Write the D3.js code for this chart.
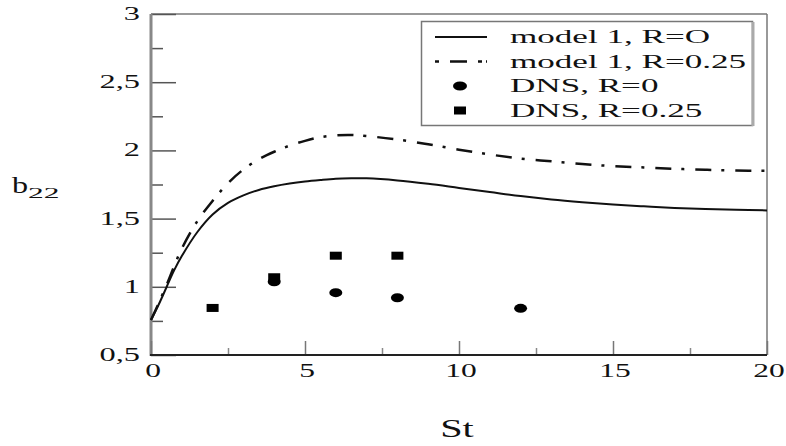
<!DOCTYPE html>
<html><head><meta charset="utf-8">
<script src="https://cdn.jsdelivr.net/npm/d3@7"></script>
<style>body{margin:0;background:#fff}svg{display:block}</style>
</head><body>
<svg id="c" width="786" height="446"></svg>
<script>
// ---- data ----
const St = [0,0.25,0.5,0.75,1,1.5,2,2.5,3,3.5,4,4.5,5,5.5,6,6.5,7,8,9,10,11,12,13,14,15,16,17,18,19,20];
const model1_R0 = [0.757,0.87,0.995,1.12,1.225,1.40,1.53,1.615,1.67,1.71,1.737,1.757,1.772,1.783,1.792,1.795,1.795,1.78,1.755,1.725,1.695,1.665,1.64,1.62,1.603,1.59,1.578,1.57,1.564,1.56];
const model1_R025 = [0.757,0.88,1.01,1.15,1.28,1.48,1.63,1.76,1.86,1.935,1.99,2.035,2.07,2.097,2.11,2.113,2.105,2.08,2.045,2.005,1.97,1.94,1.92,1.90,1.885,1.875,1.865,1.858,1.853,1.85];
const dnsR0_St = [4,6,8,12];
const dnsR0_b = [1.037,0.957,0.92,0.842];
const dnsR025_St = [2,4,6,8];
const dnsR025_b = [0.845,1.07,1.228,1.228];
const xTicks = [0,5,10,15,20];
const xTickLabels = ["0","5","10","15","20"];
const xMinor = [2.5,7.5,12.5,17.5];
const yTicks = [0.5,1,1.5,2,2.5,3];
const yTickLabels = ["0,5","1","1,5","2","2,5","3"];
const yMinor = [0.75,1.25,1.75,2.25,2.75];
const legendLabels = ["model 1, R=O","model 1, R=0.25","DNS, R=0","DNS, R=0.25"];

// ---- drawing ----
const svg = d3.select("#c");
const x = d3.scaleLinear().domain([0,20]).range([151,767]);
const y = d3.scaleLinear().domain([0.5,3]).range([355,14]);
const FONT = "'Liberation Serif','Times New Roman',serif";

function stext(g, px, py, str, size, sx, anchor) {
  return g.append("text")
    .attr("transform", `translate(${px},${py}) scale(${sx},1)`)
    .attr("text-anchor", anchor || "start")
    .attr("font-family", FONT).attr("font-size", size)
    .attr("fill", "#111").text(str);
}

// frame top & right
svg.append("line").attr("x1",x(0)).attr("x2",x(20)).attr("y1",y(3)).attr("y2",y(3)).attr("stroke","#777").attr("stroke-width",1.5);
svg.append("line").attr("x1",x(20)).attr("x2",x(20)).attr("y1",y(3)).attr("y2",y(0.5)).attr("stroke","#777").attr("stroke-width",1.5);

// y axis ticks (inward)
const gy = svg.append("g").attr("transform",`translate(${x(0)},0)`);
gy.call(d3.axisLeft(y).tickValues(yTicks).tickSize(-25).tickFormat(""));
gy.select(".domain").remove();
gy.selectAll(".tick line").attr("stroke","#555").attr("stroke-width",1.5);
gy.append("g").call(d3.axisLeft(y).tickValues(yMinor).tickSize(-12).tickFormat(""))
  .call(g=>{g.select(".domain").remove(); g.selectAll(".tick line").attr("stroke","#555").attr("stroke-width",1.5);});
svg.append("line").attr("x1",x(0)).attr("x2",x(0)).attr("y1",y(3)).attr("y2",y(0.5)+1).attr("stroke","#888").attr("stroke-width",3);

// x axis ticks (inward)
const gx = svg.append("g").attr("transform",`translate(0,${y(0.5)})`);
gx.call(d3.axisBottom(x).tickValues(xTicks).tickSize(-14).tickFormat(""));
gx.select(".domain").remove();
gx.selectAll(".tick line").attr("stroke","#777").attr("stroke-width",1.5);
gx.append("g").call(d3.axisBottom(x).tickValues(xMinor).tickSize(-7).tickFormat(""))
  .call(g=>{g.select(".domain").remove(); g.selectAll(".tick line").attr("stroke","#888").attr("stroke-width",1.5);});
svg.append("line").attr("x1",x(0)-1).attr("x2",x(20)).attr("y1",y(0.5)).attr("y2",y(0.5)).attr("stroke","#222").attr("stroke-width",2);

// tick labels
yTicks.forEach((v,i)=> stext(svg, 140, y(v)+6, yTickLabels[i], 18, 1.8, "end"));
xTicks.forEach((v,i)=> stext(svg, x(v)+2, 377, xTickLabels[i], 18, 1.75, "middle"));

// axis titles
const yl = svg.append("g");
stext(yl, 12, 193, "b", 23, 1.4, "start");
stext(yl, 28, 198, "22", 15, 2.1, "start");
stext(svg, 457, 437, "St", 26, 1.55, "middle");

// curves
const line = d3.line().x((d,i)=>x(St[i])).y(d=>y(d)).curve(d3.curveCatmullRom.alpha(0.5));
svg.append("path").attr("d", line(model1_R025)).attr("fill","none").attr("stroke","#111")
  .attr("stroke-width",2.5).attr("stroke-dasharray","16,10,3,11");
svg.append("path").attr("d", line(model1_R0)).attr("fill","none").attr("stroke","#111").attr("stroke-width",2);

// DNS points
svg.append("g").selectAll("ellipse").data(dnsR0_St).join("ellipse")
  .attr("cx",(d)=>x(d)).attr("cy",(d,i)=>y(dnsR0_b[i])).attr("rx",6.5).attr("ry",4.5).attr("fill","#000");
svg.append("g").selectAll("rect").data(dnsR025_St).join("rect")
  .attr("x",d=>x(d)-6).attr("y",(d,i)=>y(dnsR025_b[i])-4).attr("width",12).attr("height",8).attr("fill","#000");

// legend
const lg = svg.append("g");
lg.append("rect").attr("x",421.5).attr("y",21.5).attr("width",331).attr("height",104).attr("fill","#fff").attr("stroke","#777").attr("stroke-width",1.5);
lg.append("line").attr("x1",753).attr("x2",753).attr("y1",22).attr("y2",126).attr("stroke","#aaa").attr("stroke-width",3);
const rowY = i => 37 + i*24.5;
lg.append("line").attr("x1",435).attr("x2",487).attr("y1",rowY(0)).attr("y2",rowY(0)).attr("stroke","#111").attr("stroke-width",2);
lg.append("line").attr("x1",435).attr("x2",487).attr("y1",rowY(1)).attr("y2",rowY(1)).attr("stroke","#111").attr("stroke-width",2.5).attr("stroke-dasharray","4,11,17,11,4");
lg.append("ellipse").attr("cx",460).attr("cy",rowY(2)).attr("rx",7).attr("ry",4.5).attr("fill","#000");
lg.append("rect").attr("x",454).attr("y",rowY(3)-4).attr("width",12).attr("height",8).attr("fill","#000");
legendLabels.forEach((t,i)=> stext(lg, 510, rowY(i)+6, t, 18, 1.95, "start"));
</script>
</body></html>
